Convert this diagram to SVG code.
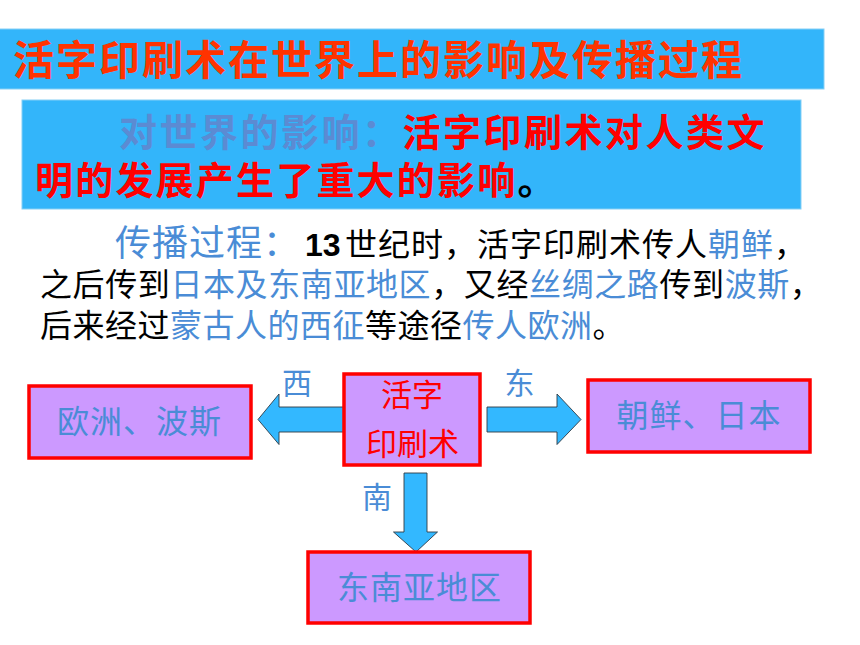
<svg xmlns="http://www.w3.org/2000/svg" width="860" height="645" viewBox="0 0 860 645">
<style>
.cjk{font-family:"Noto Sans CJK SC","Noto Sans",sans-serif;}
.bar{fill:#33B5FA;stroke:#86CFF5;stroke-width:1;}
.node{fill:#CC99FF;stroke:#FF0000;stroke-width:3.5;}
.arrow{fill:#33B8FF;stroke:#2F3A44;stroke-width:0.9;stroke-linejoin:miter;}
.blue{fill:#4A8CD6;}
.dir{fill:#4A8CD6;font-size:30px;text-anchor:middle;}
.ntext{fill:#4A8CD6;font-size:32px;text-anchor:middle;letter-spacing:1px;}
</style>
<rect width="860" height="645" fill="#FFFFFF"/>

<g id="title">
<rect class="bar" x="-1" y="29" width="825" height="60"/>
<text class="cjk" x="13" y="75" font-size="41" font-weight="bold" fill="#FF3300" textLength="729" lengthAdjust="spacing">活字印刷术在世界上的影响及传播过程</text>
</g>

<g id="influence">
<rect class="bar" x="22" y="100" width="779" height="109"/>
<text class="cjk" x="119" y="145.5" font-size="38" font-weight="bold" letter-spacing="2.5"><tspan fill="#5B8BD3">对世界的影响：</tspan><tspan fill="#FF0000">活字印刷术对人类文</tspan></text>
<text class="cjk" x="35" y="194" font-size="38" font-weight="bold" letter-spacing="2.2"><tspan fill="#FF0000">明的发展产生了重大的影响</tspan><tspan fill="#000000">。</tspan></text>
</g>

<g id="process">
<text class="cjk" y="256" font-size="32"><tspan x="115" font-size="36" fill="#4A8CD6" letter-spacing="1">传播过程：</tspan><tspan x="305" font-family="Liberation Sans, sans-serif" font-weight="bold" fill="#000000">13</tspan><tspan x="345" fill="#000000" letter-spacing="1">世纪时，活字印刷术传人<tspan fill="#4A8CD6">朝鲜</tspan>，</tspan></text>
<text class="cjk" x="40" y="296" font-size="32" letter-spacing="0.6" fill="#000000">之后传到<tspan fill="#4A8CD6">日本及东南亚地区</tspan>，又经<tspan fill="#4A8CD6">丝绸之路</tspan>传到<tspan fill="#4A8CD6">波斯</tspan>，</text>
<text class="cjk" x="40" y="336.5" font-size="32" letter-spacing="0.5" fill="#000000">后来经过<tspan fill="#4A8CD6">蒙古人的西征</tspan>等途径<tspan fill="#4A8CD6">传人欧洲</tspan>。</text>
</g>

<g id="connectors">
<polygon class="arrow" points="344,407 279,407 279,394 258,419.5 279,444.5 279,432 344,432"/>
<polygon class="arrow" points="487,407 557,407 557,394 581,419.5 557,444.5 557,432 487,432"/>
<polygon class="arrow" points="404,473 427,473 427,532 437.5,532 416,552 393.5,532 404,532"/>
<text class="cjk dir" x="297" y="394">西</text>
<text class="cjk dir" x="519.5" y="394">东</text>
<text class="cjk dir" x="377" y="508">南</text>
</g>

<g id="node-center">
<rect class="node" x="344" y="374" width="136" height="91"/>
<text class="cjk" x="412" y="405.5" font-size="31" fill="#FF0000" text-anchor="middle">活字</text>
<text class="cjk" x="412.5" y="454.5" font-size="31" fill="#FF0000" text-anchor="middle">印刷术</text>
</g>

<g id="node-west">
<rect class="node" x="29" y="386" width="222" height="72"/>
<text class="cjk ntext" x="139.5" y="433">欧洲、波斯</text>
</g>

<g id="node-east">
<rect class="node" x="588" y="380" width="222" height="72"/>
<text class="cjk ntext" x="699" y="427">朝鲜、日本</text>
</g>

<g id="node-south">
<rect class="node" x="308" y="552" width="222" height="71"/>
<text class="cjk ntext" x="419.5" y="599">东南亚地区</text>
</g>
</svg>
